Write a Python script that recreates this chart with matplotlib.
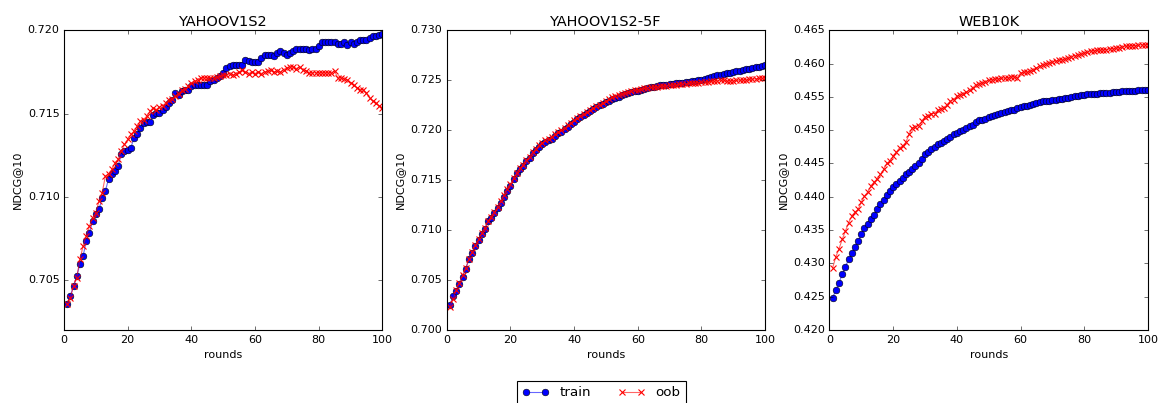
import matplotlib
matplotlib.use("Agg")
import matplotlib.pyplot as plt

rounds = list(range(1, 101))

titles = ["YAHOOV1S2", "YAHOOV1S2-5F", "WEB10K"]

# YAHOOV1S2
y1_train = [0.70354, 0.70404, 0.70464, 0.70524, 0.70594, 0.70644, 0.70734, 0.70784, 0.70854, 0.70894,
            0.70924, 0.70994, 0.71034, 0.71108, 0.71134, 0.71154, 0.71184, 0.71254, 0.71274, 0.71280,
            0.71294, 0.71354, 0.71374, 0.71414, 0.71444, 0.71448, 0.71450, 0.71494, 0.71504, 0.71504,
            0.71524, 0.71540, 0.71564, 0.71584, 0.71624, 0.71614, 0.71634, 0.71644, 0.71644, 0.71664,
            0.71670, 0.71674, 0.71674, 0.71674, 0.71674, 0.71694, 0.71704, 0.71714, 0.71724, 0.71744,
            0.71774, 0.71784, 0.71794, 0.71794, 0.71794, 0.71794, 0.71820, 0.71814, 0.71808, 0.71808,
            0.71808, 0.71834, 0.71854, 0.71854, 0.71854, 0.71844, 0.71864, 0.71874, 0.71864, 0.71854,
            0.71864, 0.71874, 0.71888, 0.71888, 0.71888, 0.71888, 0.71884, 0.71888, 0.71888, 0.71908,
            0.71928, 0.71928, 0.71928, 0.71928, 0.71928, 0.71920, 0.71920, 0.71928, 0.71914, 0.71928,
            0.71920, 0.71928, 0.71940, 0.71944, 0.71940, 0.71954, 0.71968, 0.71968, 0.71974, 0.71980]
y1_oob = [0.70354, 0.70394, 0.70464, 0.70514, 0.70624, 0.70704, 0.70764, 0.70824, 0.70874, 0.70904,
          0.70974, 0.71024, 0.71124, 0.71134, 0.71164, 0.71204, 0.71224, 0.71274, 0.71314, 0.71344,
          0.71374, 0.71394, 0.71424, 0.71454, 0.71464, 0.71484, 0.71514, 0.71534, 0.71524, 0.71540,
          0.71548, 0.71564, 0.71584, 0.71588, 0.71604, 0.71620, 0.71640, 0.71648, 0.71664, 0.71684,
          0.71694, 0.71704, 0.71714, 0.71714, 0.71714, 0.71714, 0.71714, 0.71720, 0.71724, 0.71730,
          0.71730, 0.71740, 0.71730, 0.71740, 0.71750, 0.71760, 0.71750, 0.71740, 0.71750, 0.71740,
          0.71750, 0.71740, 0.71750, 0.71754, 0.71760, 0.71750, 0.71754, 0.71750, 0.71764, 0.71776,
          0.71780, 0.71780, 0.71770, 0.71780, 0.71764, 0.71756, 0.71744, 0.71744, 0.71744, 0.71744,
          0.71744, 0.71744, 0.71744, 0.71744, 0.71754, 0.71714, 0.71714, 0.71708, 0.71704, 0.71684,
          0.71674, 0.71654, 0.71644, 0.71644, 0.71624, 0.71594, 0.71574, 0.71564, 0.71544, 0.71534]

# YAHOOV1S2-5F
y2_train = [0.70247, 0.70340, 0.70390, 0.70457, 0.70533, 0.70613, 0.70707, 0.70767, 0.70840, 0.70900,
            0.70957, 0.71007, 0.71090, 0.71123, 0.71173, 0.71223, 0.71273, 0.71333, 0.71390, 0.71440,
            0.71507, 0.71567, 0.71613, 0.71640, 0.71690, 0.71723, 0.71767, 0.71800, 0.71830, 0.71857,
            0.71880, 0.71900, 0.71913, 0.71940, 0.71967, 0.71980, 0.72007, 0.72033, 0.72057, 0.72080,
            0.72107, 0.72130, 0.72147, 0.72167, 0.72187, 0.72207, 0.72227, 0.72247, 0.72260, 0.72280,
            0.72293, 0.72307, 0.72320, 0.72333, 0.72347, 0.72357, 0.72367, 0.72377, 0.72387, 0.72393,
            0.72400, 0.72410, 0.72420, 0.72427, 0.72433, 0.72443, 0.72447, 0.72450, 0.72453, 0.72460,
            0.72463, 0.72467, 0.72470, 0.72473, 0.72477, 0.72480, 0.72487, 0.72490, 0.72497, 0.72503,
            0.72513, 0.72523, 0.72533, 0.72540, 0.72550, 0.72557, 0.72563, 0.72570, 0.72577, 0.72583,
            0.72590, 0.72597, 0.72603, 0.72610, 0.72617, 0.72623, 0.72630, 0.72637, 0.72643, 0.72653]
y2_oob = [0.70233, 0.70307, 0.70400, 0.70473, 0.70547, 0.70623, 0.70713, 0.70780, 0.70847, 0.70907,
          0.70973, 0.71023, 0.71090, 0.71133, 0.71180, 0.71233, 0.71287, 0.71347, 0.71407, 0.71457,
          0.71520, 0.71573, 0.71620, 0.71653, 0.71700, 0.71733, 0.71780, 0.71813, 0.71847, 0.71873,
          0.71900, 0.71913, 0.71933, 0.71957, 0.71980, 0.72000, 0.72023, 0.72047, 0.72073, 0.72100,
          0.72120, 0.72140, 0.72160, 0.72180, 0.72200, 0.72220, 0.72240, 0.72253, 0.72273, 0.72287,
          0.72307, 0.72327, 0.72340, 0.72353, 0.72363, 0.72373, 0.72380, 0.72390, 0.72397, 0.72403,
          0.72410, 0.72417, 0.72423, 0.72427, 0.72430, 0.72433, 0.72437, 0.72440, 0.72443, 0.72447,
          0.72450, 0.72453, 0.72457, 0.72460, 0.72463, 0.72467, 0.72470, 0.72473, 0.72473, 0.72477,
          0.72480, 0.72480, 0.72487, 0.72487, 0.72493, 0.72497, 0.72497, 0.72490, 0.72493, 0.72493,
          0.72497, 0.72500, 0.72500, 0.72503, 0.72507, 0.72510, 0.72513, 0.72517, 0.72517, 0.72520]

# WEB10K
y3_train = [0.42485, 0.42600, 0.42710, 0.42835, 0.42950, 0.43060, 0.43150, 0.43250, 0.43335, 0.43435,
            0.43535, 0.43585, 0.43660, 0.43725, 0.43810, 0.43885, 0.43945, 0.44020, 0.44085, 0.44145,
            0.44195, 0.44235, 0.44285, 0.44335, 0.44370, 0.44410, 0.44460, 0.44510, 0.44570, 0.44635,
            0.44670, 0.44710, 0.44750, 0.44785, 0.44810, 0.44835, 0.44870, 0.44900, 0.44935, 0.44960,
            0.44985, 0.45010, 0.45035, 0.45060, 0.45085, 0.45120, 0.45150, 0.45160, 0.45175, 0.45200,
            0.45220, 0.45230, 0.45245, 0.45260, 0.45275, 0.45285, 0.45300, 0.45310, 0.45330, 0.45345,
            0.45360, 0.45370, 0.45380, 0.45390, 0.45410, 0.45430, 0.45440, 0.45440, 0.45445, 0.45450,
            0.45460, 0.45465, 0.45470, 0.45480, 0.45490, 0.45500, 0.45510, 0.45515, 0.45525, 0.45535,
            0.45540, 0.45545, 0.45545, 0.45550, 0.45555, 0.45560, 0.45560, 0.45565, 0.45570, 0.45575,
            0.45580, 0.45585, 0.45590, 0.45590, 0.45595, 0.45595, 0.45600, 0.45600, 0.45600, 0.45605]
y3_oob = [0.42935, 0.43100, 0.43220, 0.43360, 0.43485, 0.43610, 0.43710, 0.43770, 0.43810, 0.43920,
          0.44010, 0.44070, 0.44160, 0.44220, 0.44270, 0.44335, 0.44410, 0.44500, 0.44535, 0.44610,
          0.44670, 0.44735, 0.44760, 0.44820, 0.44935, 0.45035, 0.45050, 0.45070, 0.45135, 0.45200,
          0.45220, 0.45250, 0.45250, 0.45300, 0.45320, 0.45335, 0.45385, 0.45435, 0.45460, 0.45510,
          0.45535, 0.45550, 0.45570, 0.45610, 0.45635, 0.45685, 0.45700, 0.45710, 0.45730, 0.45750,
          0.45760, 0.45770, 0.45770, 0.45780, 0.45780, 0.45790, 0.45800, 0.45800, 0.45790, 0.45860,
          0.45870, 0.45870, 0.45885, 0.45910, 0.45935, 0.45960, 0.45985, 0.46000, 0.46010, 0.46020,
          0.46035, 0.46050, 0.46060, 0.46070, 0.46085, 0.46100, 0.46120, 0.46130, 0.46140, 0.46160,
          0.46170, 0.46185, 0.46195, 0.46200, 0.46200, 0.46205, 0.46210, 0.46220, 0.46225, 0.46230,
          0.46240, 0.46250, 0.46260, 0.46260, 0.46270, 0.46270, 0.46275, 0.46280, 0.46280, 0.46285]

train = [y1_train, y2_train, y3_train]
oob = [y1_oob, y2_oob, y3_oob]
ylims = [(0.702, 0.720), (0.700, 0.730), (0.420, 0.465)]
yticks = [[0.705, 0.710, 0.715, 0.720],
          [0.700, 0.705, 0.710, 0.715, 0.720, 0.725, 0.730],
          [0.420, 0.425, 0.430, 0.435, 0.440, 0.445, 0.450, 0.455, 0.460, 0.465]]

plt.style.use("classic")
fig, axes = plt.subplots(1, 3, figsize=(1163 / 80, 403 / 80), dpi=80, facecolor="white")
fig.subplots_adjust(left=0.055, right=0.987, bottom=0.181, top=0.925, wspace=0.202)

for i, ax in enumerate(axes):
    l1, = ax.plot(rounds, train[i], "-o", color=(0, 0, 1, 0.6), mfc="b", mec="k",
                  mew=0.5, ms=6, lw=1, label="train")
    l2, = ax.plot(rounds, oob[i], "-x", color=(1, 0, 0, 0.6), mec="r",
                  mew=1, ms=6, lw=1, label="oob")
    ax.set_xlim(0, 100)
    ax.set_ylim(*ylims[i])
    ax.set_xticks([0, 20, 40, 60, 80, 100])
    ax.set_yticks(yticks[i])
    ax.set_yticklabels(["%.3f" % t for t in yticks[i]])
    ax.tick_params(labelsize=10, pad=4)
    ax.set_xlabel("rounds", fontsize=10)
    ax.set_ylabel("NDCG@10", fontsize=10)
    ax.set_title(titles[i], fontsize=13, pad=4)

fig.legend([l1, l2], ["train", "oob"], loc="upper center", bbox_to_anchor=(0.517, 0.071),
           ncol=2, numpoints=2, fontsize=12, frameon=True, fancybox=False)

fig.savefig("out.png", dpi=80, facecolor="white")
